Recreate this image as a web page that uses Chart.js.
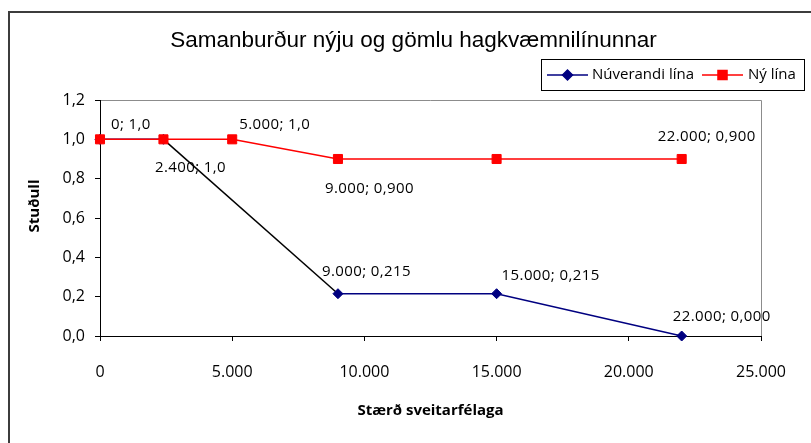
<!DOCTYPE html>
<html><head><meta charset="utf-8">
<script src="https://cdn.jsdelivr.net/npm/chart.js@4/dist/chart.umd.min.js"></script>
<style>html,body{margin:0;padding:0;background:#fff;}#wrap{width:811px;height:443px;position:relative;overflow:hidden}</style>
</head><body><div id="wrap"><canvas id="c" width="811" height="443"></canvas></div>
<script>
// ---- data ----
const chartTitle = 'Samanburður nýju og gömlu hagkvæmnilínunnar';
const xAxisTitle = 'Stærð sveitarfélaga';
const yAxisTitle = 'Stuðull';
const seriesNames = ['Núverandi lína', 'Ný lína'];
const nuverandiX = [0, 2400, 9000, 15000, 22000];
const nuverandiY = [1.0, 1.0, 0.215, 0.215, 0.0];
const nyX = [0, 2400, 5000, 9000, 15000, 22000];
const nyY = [1.0, 1.0, 1.0, 0.9, 0.9, 0.9];
// decimals shown in the data label of each point (null = no label)
const nuverandiLabelDecimals = [null, 1, 3, 3, 3];
const nyLabelDecimals = [1, null, 1, 3, null, 3];
const xTicks = [0, 5000, 10000, 15000, 20000, 25000];
const yTicks = [0, 0.2, 0.4, 0.6, 0.8, 1.0, 1.2];

// ---- styling / placement ----
const labelOffsets = [
  [null, [-8.5, 28], [-16, -22], [5, -18], [-9, -19]],
  [[11, -15], null, [7, -15], [-13, 30], null, [-24, -22]]
];
const FONT = "'Open Sans', sans-serif";

function fmtInt(n){ return Math.round(n).toString().replace(/\B(?=(\d{3})+(?!\d))/g, '.'); }
function fmtDec(v, d){ return v.toFixed(d).replace('.', ','); }

const blueData = nuverandiX.map((x,i)=>({x, y: nuverandiY[i]}));
const redData = nyX.map((x,i)=>({x, y: nyY[i]}));
const decimals = [nuverandiLabelDecimals, nyLabelDecimals];

const decorPlugin = {
  id: 'decor',
  beforeDraw(chart){
    const ctx = chart.ctx;
    ctx.save();
    ctx.fillStyle = '#fff';
    ctx.fillRect(0,0,chart.width,chart.height);
    ctx.strokeStyle = '#3c3c3c';
    ctx.lineWidth = 2;
    ctx.strokeRect(9, 12, 1000, 1000);
    // plot frame (grey)
    const a = chart.chartArea;
    ctx.strokeStyle = '#8c8c8c';
    ctx.lineWidth = 1;
    ctx.beginPath();
    ctx.moveTo(a.left, Math.round(a.top)+0.5);
    ctx.lineTo(Math.round(a.right)+0.5, Math.round(a.top)+0.5);
    ctx.lineTo(Math.round(a.right)+0.5, a.bottom);
    ctx.stroke();
    // title
    ctx.fillStyle = '#000';
    ctx.font = "22.5px 'Liberation Sans', Arial, sans-serif";
    ctx.textAlign = 'center';
    ctx.textBaseline = 'middle';
    ctx.fillText(chartTitle, 413.5, 41);
    // y axis title
    ctx.save();
    ctx.translate(34.5, 206);
    ctx.rotate(-Math.PI/2);
    ctx.font = "bold 15px " + FONT;
    ctx.fillText(yAxisTitle, 0, 0);
    ctx.restore();
    // legend
    ctx.strokeStyle = '#000';
    ctx.lineWidth = 1;
    ctx.strokeRect(541.5, 59.5, 263, 31);
    const ly = 75;
    const ds = chart.data.datasets;
    const items = [[547, 588, 592, ds[0]], [702, 743, 748, ds[1]]];
    items.forEach(([x0, x1, tx, d])=>{
      ctx.strokeStyle = d.borderColor;
      ctx.lineWidth = 1.5;
      ctx.beginPath(); ctx.moveTo(x0, ly); ctx.lineTo(x1, ly); ctx.stroke();
      ctx.fillStyle = d.pointBackgroundColor;
      Chart.helpers.drawPoint(ctx, {pointStyle: d.pointStyle, radius: d.pointRadius, borderWidth: 1, rotation: 0}, (x0+x1)/2, ly);
      ctx.fillStyle = '#000';
      ctx.font = "15px " + FONT;
      ctx.textAlign = 'left';
      ctx.fillText(d.label, tx, ly);
    });
    ctx.restore();
  },
  afterDatasetsDraw(chart){
    const ctx = chart.ctx;
    ctx.save();
    ctx.fillStyle = '#000';
    ctx.font = "15px " + FONT;
    if ('letterSpacing' in ctx) ctx.letterSpacing = '0.4px';
    ctx.textAlign = 'left';
    ctx.textBaseline = 'middle';
    chart.data.datasets.forEach((d, di)=>{
      const meta = chart.getDatasetMeta(di);
      meta.data.forEach((pt, i)=>{
        const dec = decimals[di][i];
        if (dec == null) return;
        const off = labelOffsets[di][i];
        const v = d.data[i];
        const txt = fmtInt(v.x) + '; ' + fmtDec(v.y, dec);
        ctx.fillText(txt, pt.x + off[0], pt.y + off[1]);
      });
    });
    ctx.restore();
  }
};

new Chart(document.getElementById('c'), {
  type: 'line',
  data: {
    datasets: [
      {
        label: seriesNames[0], data: blueData, order: 1, clip: false,
        borderColor: '#000080', backgroundColor: '#000080', borderWidth: 1.5,
        pointStyle: 'rectRot', pointRadius: 5, pointBackgroundColor: '#000080', pointBorderColor: '#000080', pointBorderWidth: 1,
        segment: { borderColor: c => c.p0DataIndex === 1 ? '#000000' : undefined },
        tension: 0, fill: false
      },
      {
        label: seriesNames[1], data: redData, order: 0, clip: false,
        borderColor: '#ff0000', backgroundColor: '#ff0000', borderWidth: 1.5,
        pointStyle: 'rect', pointRadius: 6.4, pointBackgroundColor: '#ff0000', pointBorderColor: '#ff0000', pointBorderWidth: 1,
        tension: 0, fill: false
      }
    ]
  },
  options: {
    responsive: false, animation: false, devicePixelRatio: 1,
    layout: { padding: { left: 0, right: 50, top: 100, bottom: 0 } },
    plugins: { legend: { display: false }, title: { display: false }, tooltip: { enabled: false } },
    scales: {
      x: {
        type: 'linear', min: 0, max: 25000,
        afterBuildTicks: s => { s.ticks = xTicks.map(v=>({value: v})); },
        afterFit: s => { s.height = 107; },
        grid: { drawOnChartArea: false, drawTicks: true, tickLength: 5, color: '#000', lineWidth: 1 },
        border: { display: true, color: '#000', width: 1 },
        ticks: { color: '#000', font: { family: FONT, size: 16 }, padding: 22, maxRotation: 0, callback: v => fmtInt(v) },
        title: { display: true, text: xAxisTitle, color: '#000', font: { family: FONT, size: 15, weight: 'bold' }, padding: { top: 0, bottom: 23 } }
      },
      y: {
        type: 'linear', min: 0, max: 1.2,
        afterBuildTicks: s => { s.ticks = yTicks.map(v=>({value: v})); },
        afterFit: s => { s.width = 100; },
        grid: { drawOnChartArea: false, drawTicks: true, tickLength: 5, color: '#000', lineWidth: 1 },
        border: { display: true, color: '#000', width: 1 },
        ticks: { color: '#000', font: { family: FONT, size: 16 }, padding: 10, callback: v => fmtDec(v, 1) },
        title: { display: false }
      }
    }
  },
  plugins: [decorPlugin]
});
</script></body></html>
